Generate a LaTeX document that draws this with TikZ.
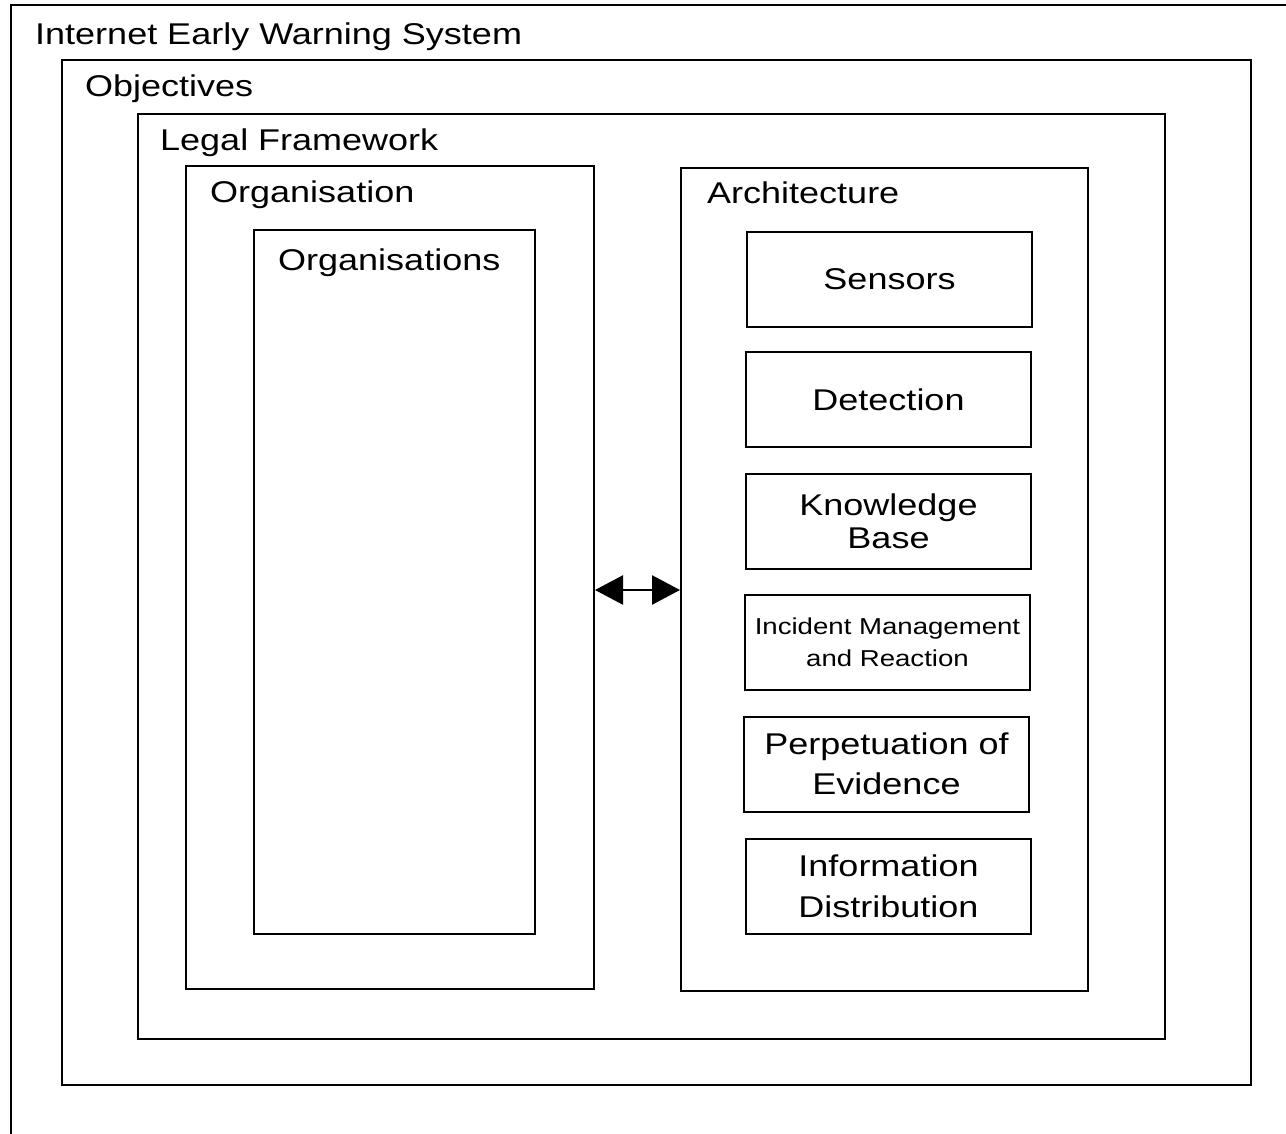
\documentclass[tikz,border=0pt]{standalone}
\usepackage{fontspec}
\setmainfont{Liberation Sans}[FakeStretch=1.2]
\usetikzlibrary{positioning}
\usetikzlibrary{arrows.meta}

\begin{document}
\begin{tikzpicture}[x=1pt, y=-1pt]
\useasboundingbox (0,0) rectangle (1286,1134);
\fill[white] (0,0) rectangle (1286,1134);

\begin{scope}
  % outermost frame runs off the page
  \draw[line width=2pt] (11,1150) |- (1300,5);
\end{scope}

\begin{scope}[every node/.style={draw, line width=2pt, inner sep=0pt}]
  \node[minimum width=1189pt, minimum height=1025pt] (objectives) at (656.5, 572.5) {};
  \node[minimum width=1027pt, minimum height=925pt] (legal) at (651.5, 576.5) {};
  \node[minimum width=408pt, minimum height=823pt] (organisation) at (390, 577.5) {};
  \node[minimum width=281pt, minimum height=704pt] (organisations) at (394.5, 582) {};
  \node[minimum width=407pt, minimum height=823pt] (architecture) at (884.5, 579.5) {};
\end{scope}

\begin{scope}[every node/.style={anchor=base west, inner sep=0pt,
                                 font=\fontsize{30}{36}\selectfont}]
  \node (iews) at (35, 45) {Internet Early Warning System};
  \node (objlabel) at (85, 97) {Objectives};
  \node (legallabel) at (160, 151) {Legal Framework};
  \node (orglabel) at (210, 203) {Organisation};
  \node (orgslabel) at (278, 271) {Organisations};
  \node (archlabel) at (707, 204) {Architecture};
\end{scope}

\begin{scope}[every node/.style={draw, line width=2pt, minimum width=285pt,
                                 minimum height=95pt, align=center, inner sep=0pt,
                                 font=\fontsize{30}{33}\selectfont}]
  \node (sensors) at (889.5, 279.5) {Sensors};
  \node (detection) at (888.5, 399.5) {Detection};
  \node (knowledge) at (888.5, 521) {Knowledge\\Base};
  \node[font=\fontsize{23}{32}\selectfont] (incident) at (887.5, 642.5)
       {Incident Management\\and Reaction};
  \node[font=\fontsize{30}{40}\selectfont] (evidence) at (886.5, 764)
       {Perpetuation of\\Evidence};
  \node[font=\fontsize{30}{41}\selectfont] (distribution) at (888.5, 886)
       {Information\\Distribution};
\end{scope}

\coordinate (link) at (637, 590);
\begin{scope}[>={Triangle[length=28pt, width=29pt]},
              every edge/.style={draw, line width=2.5pt}]
  \path[<->] (organisation.east |- link) edge (architecture.west |- link);
\end{scope}
\end{tikzpicture}
\end{document}
